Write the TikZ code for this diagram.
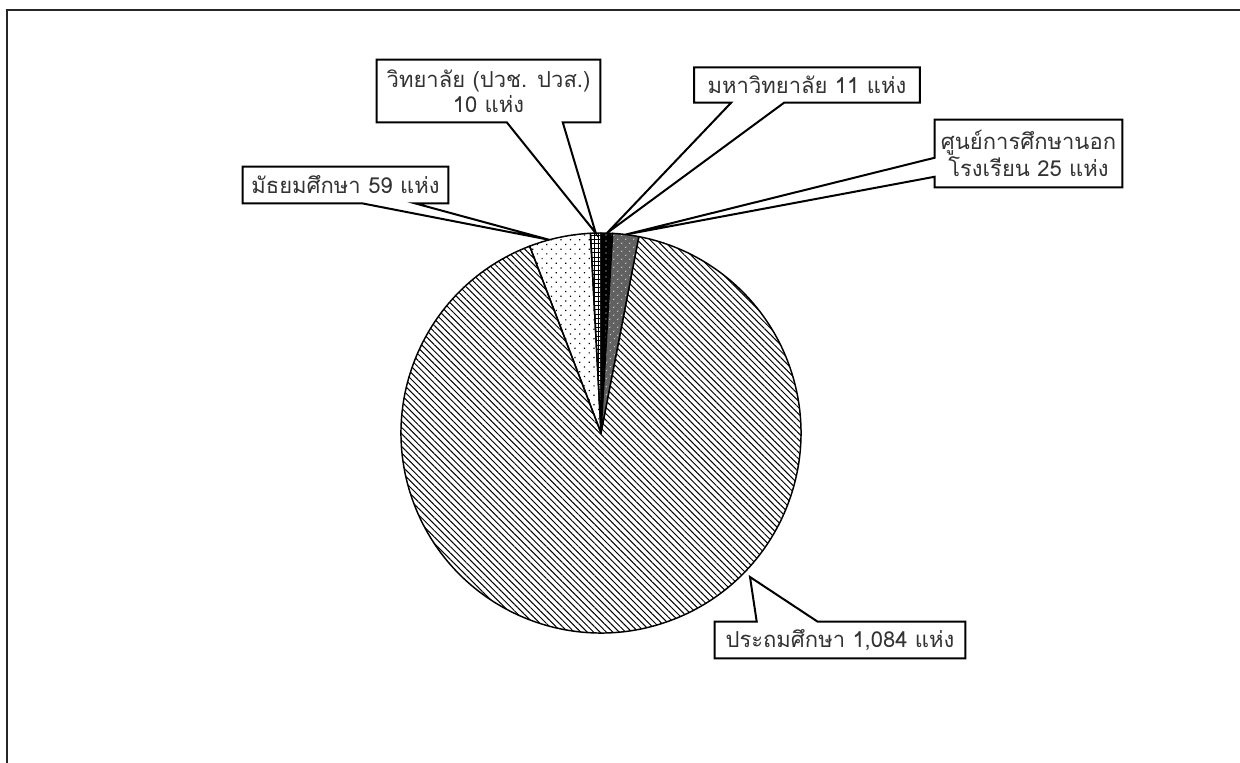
\documentclass[tikz,border=0pt]{standalone}
\usepackage{fontspec}
\newfontfamily\thaifont[Script=Thai]{Loma}
\usetikzlibrary{patterns.meta,calc,backgrounds}
\begin{document}
\begin{tikzpicture}[x=0.75pt,y=-0.75pt,
  lbl/.style={font=\thaifont\fontsize{16.5}{19}\selectfont, text=black!80, inner sep=0pt, align=center},
  callout/.style={draw=black, line width=1.5pt, fill=white, line join=miter},
  slice/.style={draw=black, line width=1.1pt, line join=round}]
\useasboundingbox (0,0) rectangle (1240,763);

% pie
\begin{scope}[shift={(601,433)}, y=0.75pt]
  \coordinate (c) at (0,0);
  % primary
  \path[pattern={Lines[angle=-45,distance=3.4pt,line width=0.75pt]}]
    (0,0) -- (110.89:200) arc[start angle=110.89, end angle=439.10, radius=200] -- cycle;
  \draw[slice] (0,0) -- (110.89:200) arc[start angle=110.89, end angle=439.10, radius=200] -- cycle;
  % secondary
  \path[pattern={Dots[radius=0.65pt,distance=5pt,angle=45]}]
    (0,0) -- (93.03:200) arc[start angle=93.03, end angle=110.89, radius=200] -- cycle;
  \draw[slice] (0,0) -- (93.03:200) arc[start angle=93.03, end angle=110.89, radius=200] -- cycle;
  % colleges
  \path[pattern={Hatch[angle=0,distance=3.3pt,line width=0.5pt]}]
    (0,0) -- (90:200) arc[start angle=90, end angle=93.03, radius=200] -- cycle;
  \draw[slice] (0,0) -- (90:200) arc[start angle=90, end angle=93.03, radius=200] -- cycle;
  % university
  \fill[black] (0,0) -- (86.67:200) arc[start angle=86.67, end angle=90, radius=200] -- cycle;
  \path[pattern={Dots[radius=0.55pt,distance=4.5pt]}, pattern color=white]
    (0,0) -- (86.67:200) arc[start angle=86.67, end angle=90, radius=200] -- cycle;
  \draw[slice] (0,0) -- (86.67:200) arc[start angle=86.67, end angle=90, radius=200] -- cycle;
  % non-formal
  \fill[black!62] (0,0) -- (79.10:200) arc[start angle=79.10, end angle=86.67, radius=200] -- cycle;
  \path[pattern={Dots[radius=0.5pt,distance=4pt,angle=45]}, pattern color=white]
    (0,0) -- (79.10:200) arc[start angle=79.10, end angle=86.67, radius=200] -- cycle;
  \draw[slice] (0,0) -- (79.10:200) arc[start angle=79.10, end angle=86.67, radius=200] -- cycle;
  % leader tips
  \coordinate (tcol) at (91.5:200);
  \coordinate (tsec) at (105:200);
  \coordinate (tuni) at (88.3:200);
  \coordinate (tnf) at (82.9:200);
  \coordinate (tpr) at (149,-144);
\end{scope}

% labels
\node[lbl, minimum width=167.25pt, minimum height=46.5pt] (col) at (488.5,91) {วิทยาลัย (ปวช. ปวส.)\\10 แห่ง};
\node[lbl, minimum width=153.75pt, minimum height=27pt] (sec) at (345.5,185) {มัธยมศึกษา 59 แห่ง};
\node[lbl, minimum width=168.75pt, minimum height=26pt] (uni) at (807,85) {มหาวิทยาลัย 11 แห่ง};
\node[lbl, minimum width=140.25pt, minimum height=50.25pt] (nf) at (1028.5,153.5) {ศูนย์การศึกษานอก\\โรงเรียน 25 แห่ง};
\node[lbl, minimum width=187.5pt, minimum height=27pt] (pr) at (840,640) {ประถมศึกษา 1,084 แห่ง};

\begin{scope}[on background layer]
  \fill[white] (0,0) rectangle (1240,763);
  \draw[line width=1.6pt, black!85] (7,775) -- (7,10) -- (1255,10);
  \draw[callout] (col.south west) -- (col.north west) -- (col.north east) -- (col.south east)
    -- ($(col.south west)+(186,0)$) -- (tcol) -- ($(col.south west)+(130,0)$) -- cycle;
  \draw[callout] (sec.south west) -- (sec.north west) -- (sec.north east) -- (sec.south east)
    -- ($(sec.south west)+(172,0)$) -- (tsec) -- ($(sec.south west)+(119,0)$) -- cycle;
  \draw[callout] (uni.south west) -- (uni.north west) -- (uni.north east) -- (uni.south east)
    -- ($(uni.south west)+(90,0)$) -- (tuni) -- ($(uni.south west)+(37,0)$) -- cycle;
  \draw[callout] (nf.north west) -- (nf.north east) -- (nf.south east) -- (nf.south west)
    -- ($(nf.north west)+(0,57)$) -- (tnf) -- ($(nf.north west)+(0,38)$) -- cycle;
  \draw[callout] (pr.north west) -- (pr.south west) -- (pr.south east) -- (pr.north east)
    -- ($(pr.north west)+(103,0)$) -- (tpr) -- ($(pr.north west)+(42,0)$) -- cycle;
\end{scope}
\end{tikzpicture}
\end{document}
